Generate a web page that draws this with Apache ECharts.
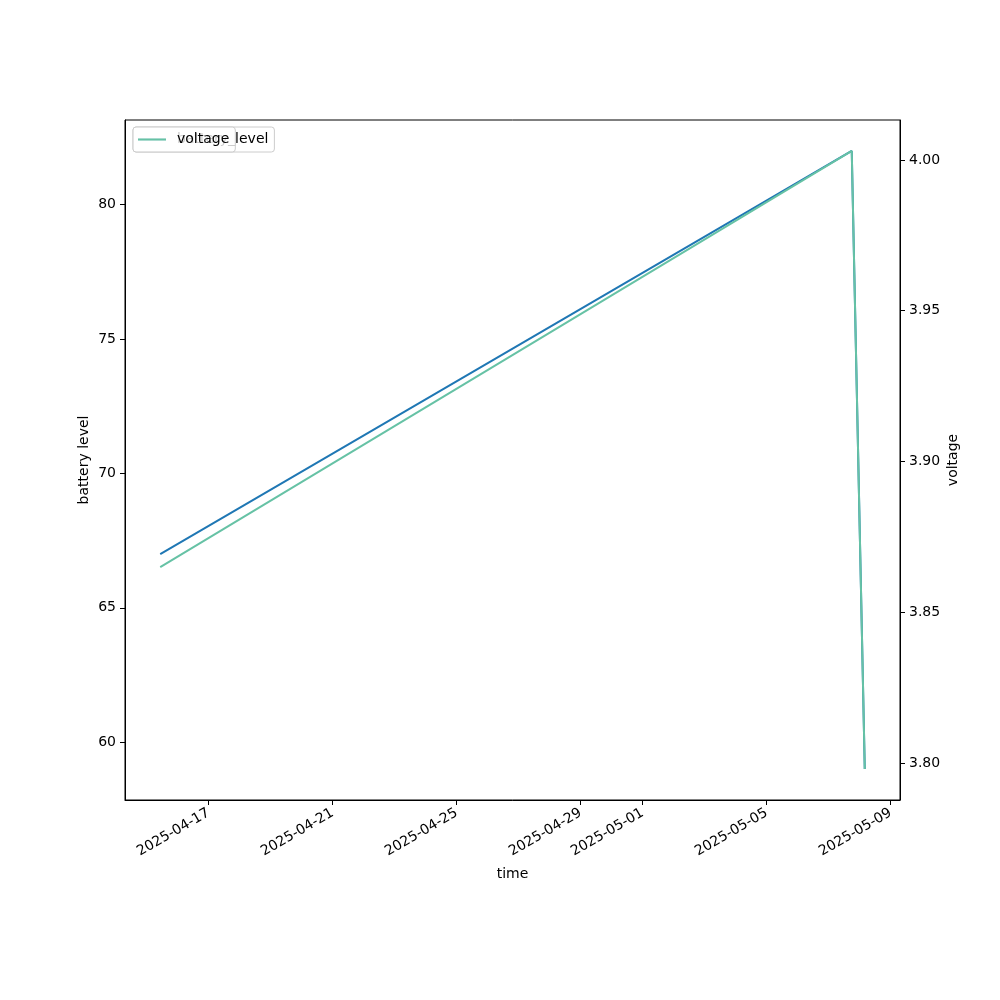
<!DOCTYPE html>
<html>
<head>
<meta charset="utf-8">
<script src="https://cdn.jsdelivr.net/npm/echarts@6/dist/echarts.min.js"></script>
<style>html,body{margin:0;padding:0;background:#fff;}#c{width:1000px;height:1000px;}</style>
</head>
<body>
<div id="c"></div>
<script>
// ---- data ----
const times = ['2025-04-15T10:30:00Z', '2025-05-07T17:50:00Z', '2025-05-08T03:55:00Z'];
const batteryLevel = [67, 82, 59];
const voltage = [3.865, 4.003, 3.798];
const xTickDates = ['2025-04-17', '2025-04-21', '2025-04-25', '2025-04-29', '2025-05-01', '2025-05-05', '2025-05-09'];
const batteryTicks = [60, 65, 70, 75, 80];
const voltageTicks = [3.80, 3.85, 3.90, 3.95, 4.00];

// ---- helpers ----
const ts = times.map(t => Date.parse(t));
const xTicks = xTickDates.map(d => Date.parse(d + 'T00:00:00Z'));
function pad(a) { const lo = Math.min(...a), hi = Math.max(...a), m = (hi - lo) * 0.05; return [lo - m, hi + m]; }
const xr = pad(ts), br = pad(batteryLevel), vr = pad(voltage);
function fmtDate(v) {
  const d = new Date(v);
  const p = n => (n < 10 ? '0' : '') + n;
  return d.getUTCFullYear() + '-' + p(d.getUTCMonth() + 1) + '-' + p(d.getUTCDate());
}
const FONT = 'DejaVu Sans';
const txt = { color: '#000', fontFamily: FONT, fontSize: 14 };

const chart = echarts.init(document.getElementById('c'), null, { renderer: 'canvas' });
const legendBase = {
  left: 133, top: 127, orient: 'vertical', padding: [4, 6, 4, 5],
  icon: 'rect', itemWidth: 28, itemHeight: 2,
  backgroundColor: 'rgba(255,255,255,0.8)', borderColor: '#cccccc', borderWidth: 1, borderRadius: 3,
  textStyle: { ...txt, padding: [0, 0, 0, 6], lineHeight: 17 }
};
chart.setOption({
  animation: false,
  backgroundColor: '#fff',
  textStyle: { fontFamily: FONT },
  grid: { left: 125, right: 100, top: 120, bottom: 200, show: true, borderColor: '#000', borderWidth: 1, containLabel: false },
  xAxis: {
    type: 'value', min: xr[0], max: xr[1],
    name: 'time', nameLocation: 'middle', nameGap: 67, nameMoveOverlap: false, nameTextStyle: txt,
    splitLine: { show: false },
    axisLine: { show: true, lineStyle: { color: '#000', width: 1 } },
    axisTick: { show: true, customValues: xTicks, length: 5, lineStyle: { color: '#000' } },
    axisLabel: { customValues: xTicks, rotate: 30, formatter: v => fmtDate(v), margin: 12, ...txt }
  },
  yAxis: [
    {
      type: 'value', min: br[0], max: br[1], position: 'left',
      name: 'battery level', nameLocation: 'middle', nameGap: 34, nameMoveOverlap: false, nameRotate: 90, nameTextStyle: txt,
      splitLine: { show: false },
      axisLine: { show: true, lineStyle: { color: '#000', width: 1 } },
      axisTick: { show: true, customValues: batteryTicks, length: 5, lineStyle: { color: '#000' } },
      axisLabel: { customValues: batteryTicks, margin: 9, formatter: v => String(v), ...txt }
    },
    {
      type: 'value', min: vr[0], max: vr[1], position: 'right',
      name: 'voltage', nameLocation: 'middle', nameGap: 46, nameMoveOverlap: false, nameRotate: 90, nameTextStyle: txt,
      splitLine: { show: false },
      axisLine: { show: true, lineStyle: { color: '#000', width: 1 } },
      axisTick: { show: true, customValues: voltageTicks, length: 5, lineStyle: { color: '#000' } },
      axisLabel: { customValues: voltageTicks, margin: 9, formatter: v => v.toFixed(2), ...txt }
    }
  ],
  legend: [
    { ...legendBase, data: ['battery_level'], z: 10 },
    { ...legendBase, data: ['voltage'], z: 11 }
  ],
  series: [
    {
      name: 'battery_level', type: 'line', yAxisIndex: 0, symbol: 'none', showSymbol: false,
      data: ts.map((t, i) => [t, batteryLevel[i]]),
      lineStyle: { color: '#1f77b4', width: 2 }, itemStyle: { color: '#1f77b4' }, z: 2
    },
    {
      name: 'voltage', type: 'line', yAxisIndex: 1, symbol: 'none', showSymbol: false,
      data: ts.map((t, i) => [t, voltage[i]]),
      lineStyle: { color: '#66c2a5', width: 2 }, itemStyle: { color: '#66c2a5' }, z: 3
    }
  ]
});
</script>
</body>
</html>
